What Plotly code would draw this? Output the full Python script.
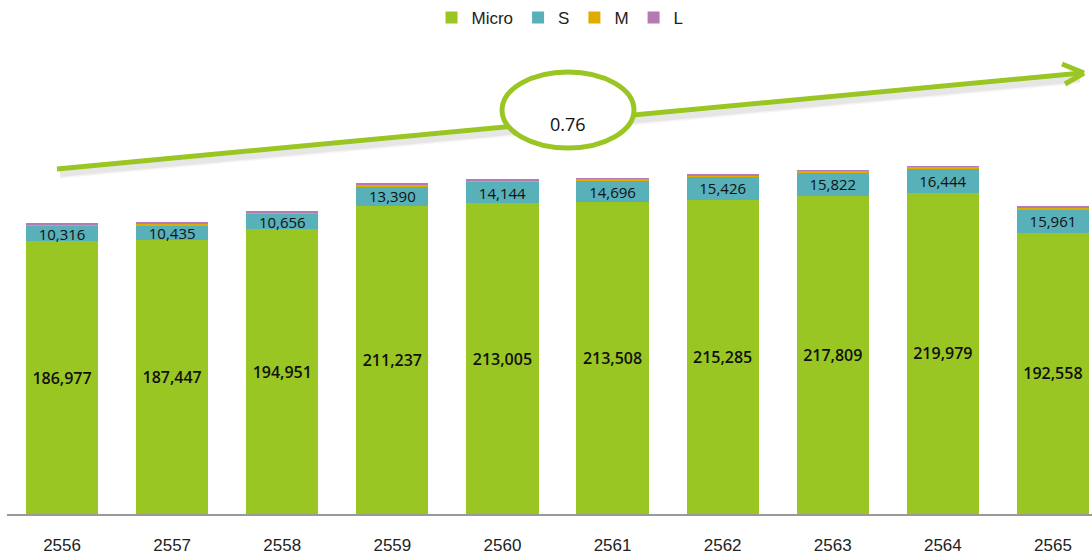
import plotly.graph_objects as go

# Enterprise counts by size, Thai fiscal years
years = ["2556", "2557", "2558", "2559", "2560", "2561", "2562", "2563", "2564", "2565"]
micro = [186977, 187447, 194951, 211237, 213005, 213508, 215285, 217809, 219979, 192558]
small = [10316, 10435, 10656, 13390, 14144, 14696, 15426, 15822, 16444, 15961]
medium = [1150, 1180, 1200, 1350, 1380, 1400, 1420, 1450, 1480, 1500]
large = [300, 300, 310, 330, 340, 340, 350, 350, 360, 500]
growth_label = "0.76"

C_MICRO = "#99C623"
C_S = "#58B0B9"
C_M = "#E1AC00"
C_L = "#B57AB3"
C_TXT = "#111111"

W, H = 1092, 554
ML, MR, MT, MB = 7, 0, 40, 40
PLOT_W = W - ML - MR
PLOT_H = H - MT - MB
SLOT = 110.1  # pixels per category


def px(x):
    return (x - ML) / PLOT_W


def py(y):
    return (H - MB - y) / PLOT_H


fmt = lambda v: f"{v:,}"
no_line = dict(width=0)

fig = go.Figure()
fig.add_bar(
    name="Micro", x=years, y=micro, marker=dict(color=C_MICRO, line=no_line),
    text=[fmt(v) for v in micro], textposition="inside", insidetextanchor="middle",
    textfont=dict(family="Open Sans", size=16, color=C_TXT, weight=600), textangle=0,
)
fig.add_bar(
    name="S", x=years, y=small, marker=dict(color=C_S, line=no_line),
    text=[fmt(v) for v in small], textposition="inside", insidetextanchor="middle",
    textfont=dict(family="Open Sans", size=15, color=C_TXT), textangle=0,
    constraintext="none",
)
fig.add_bar(name="M", x=years, y=medium, marker=dict(color=C_M, line=no_line))
fig.add_bar(name="L", x=years, y=large, marker=dict(color=C_L, line=no_line))

shapes = []
# soft shadow under the trend arrow
for w, a in [(9, 0.04), (6, 0.06)]:
    shapes.append(dict(type="line", xref="paper", yref="paper",
                       x0=px(60), y0=py(174), x1=px(1080), y1=py(79),
                       line=dict(color=f"rgba(0,0,0,{a})", width=w)))
# trend arrow
arrow = dict(color=C_MICRO, width=5)
shapes.append(dict(type="line", xref="paper", yref="paper",
                   x0=px(57), y0=py(169), x1=px(1082), y1=py(73), line=arrow))
shapes.append(dict(type="line", xref="paper", yref="paper",
                   x0=px(1062), y0=py(64), x1=px(1084), y1=py(73), line=arrow))
shapes.append(dict(type="line", xref="paper", yref="paper",
                   x0=px(1065), y0=py(84), x1=px(1084), y1=py(73), line=arrow))
# growth ellipse
shapes.append(dict(type="circle", xref="paper", yref="paper",
                   x0=px(502), y0=py(148), x1=px(634), y1=py(72),
                   fillcolor="white", line=dict(color=C_MICRO, width=5)))

fig.update_layout(
    width=W, height=H,
    margin=dict(l=ML, r=MR, t=MT, b=MB, autoexpand=False),
    barmode="stack", bargap=0.345,
    plot_bgcolor="white", paper_bgcolor="white",
    showlegend=True,
    legend=dict(orientation="h", x=px(560), xanchor="center", y=1, yref="container",
                yanchor="top", font=dict(family="Liberation Sans", size=17, color="#222"),
                traceorder="normal", itemwidth=30),
    shapes=shapes,
    annotations=[dict(xref="paper", yref="paper", x=px(568), y=py(110),
                      text=growth_label, showarrow=False,
                      font=dict(family="Open Sans", size=18, color=C_TXT, weight=500))],
    xaxis=dict(showgrid=False, showline=True, linecolor="#999", linewidth=2,
               range=[-0.5, -0.5 + PLOT_W / SLOT],
               ticks="", tickfont=dict(family="Liberation Sans Narrow, Liberation Sans", size=17, color="#222"),
               ticklabelstandoff=15),
    yaxis=dict(visible=False, range=[0, PLOT_H * 685]),
    uniformtext=dict(mode=False),
)

fig.write_html("out.html")
